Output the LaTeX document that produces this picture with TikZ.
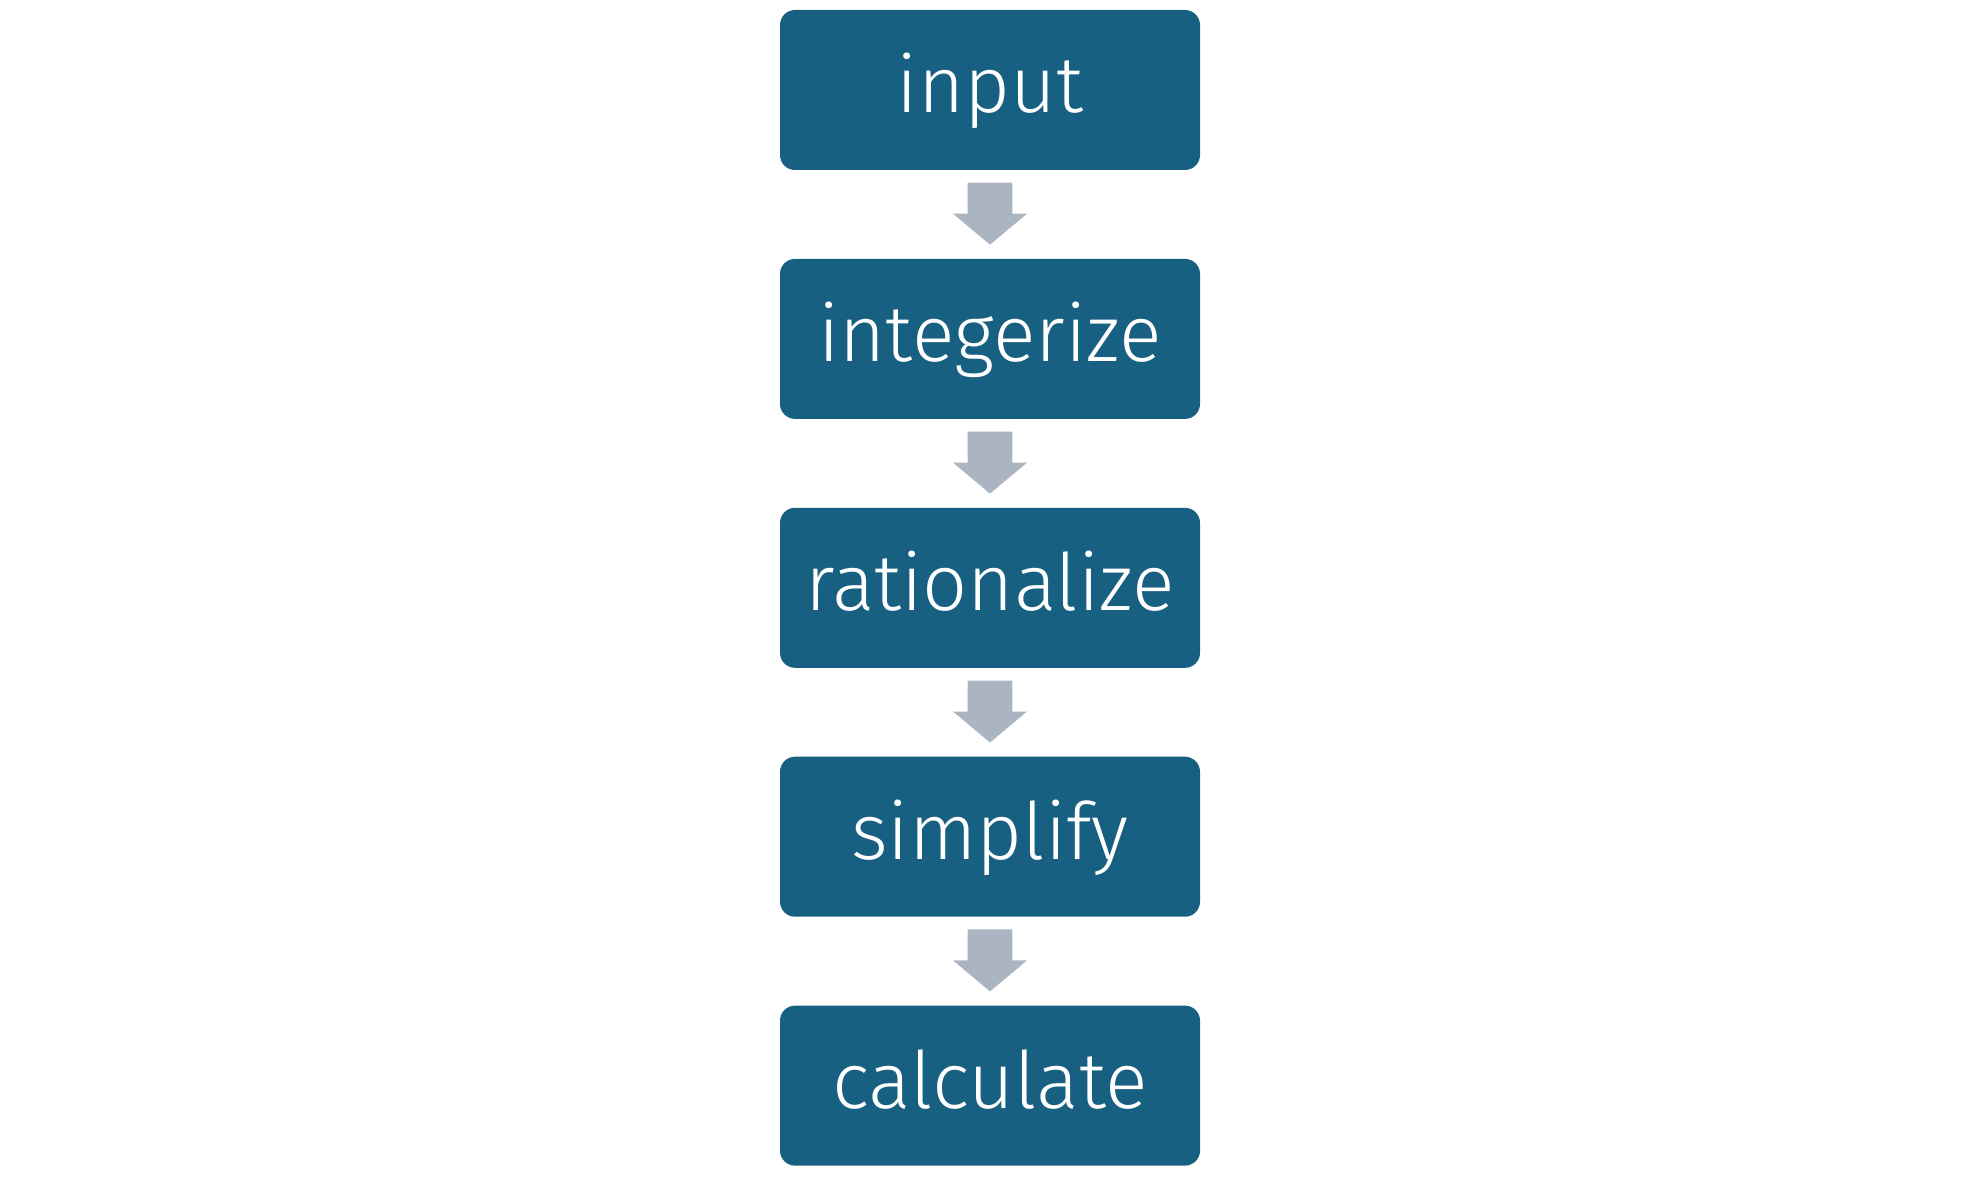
\documentclass[tikz,border=0pt]{standalone}
\usepackage{fontspec}
\IfFontExistsTF{Fira Sans Light}
  {\setmainfont{Fira Sans Light}}
  {\setmainfont{Noto Sans CJK SC}[FakeStretch=0.9]}
\definecolor{boxblue}{RGB}{24,96,130}
\definecolor{arrowgray}{RGB}{170,181,193}
\usetikzlibrary{calc}
\usetikzlibrary{positioning}
\tikzset{
  stepbox/.style={fill=boxblue, text=white, rounded corners=0.15cm,
    minimum width=4.2cm, minimum height=1.6cm, inner sep=0pt,
    text height=0.6cm, text depth=0.15cm,
    font=\fontsize{22.5}{26}\selectfont},
  blockarrow/.style={fill=arrowgray}
}
\begin{document}
\begin{tikzpicture}
  \useasboundingbox (0,0) rectangle (19.8,-11.87);

  % the five steps
  \node [stepbox] (input) at (9.9,-0.9) {input};
  \node [stepbox, below=0.875cm of input] (integerize) {integerize};
  \node [stepbox, below=0.875cm of integerize] (rationalize) {rationalize};
  \node [stepbox, below=0.875cm of rationalize] (simplify) {simplify};
  \node [stepbox, below=0.875cm of simplify] (calculate) {calculate};

  % block arrows between them
  \foreach \a/\b in {input/integerize, integerize/rationalize,
                     rationalize/simplify, simplify/calculate}
    \fill [blockarrow] ($(\a.south)+(-0.223,-0.12)$) -- ($(\a.south)+(0.223,-0.12)$)
      -- ($(\a.south)+(0.223,-0.43)$) -- ($(\a.south)+(0.37,-0.43)$)
      -- ($(\b.north)+(0,0.135)$)
      -- ($(\a.south)+(-0.37,-0.43)$) -- ($(\a.south)+(-0.223,-0.43)$) -- cycle;

\end{tikzpicture}
\end{document}
